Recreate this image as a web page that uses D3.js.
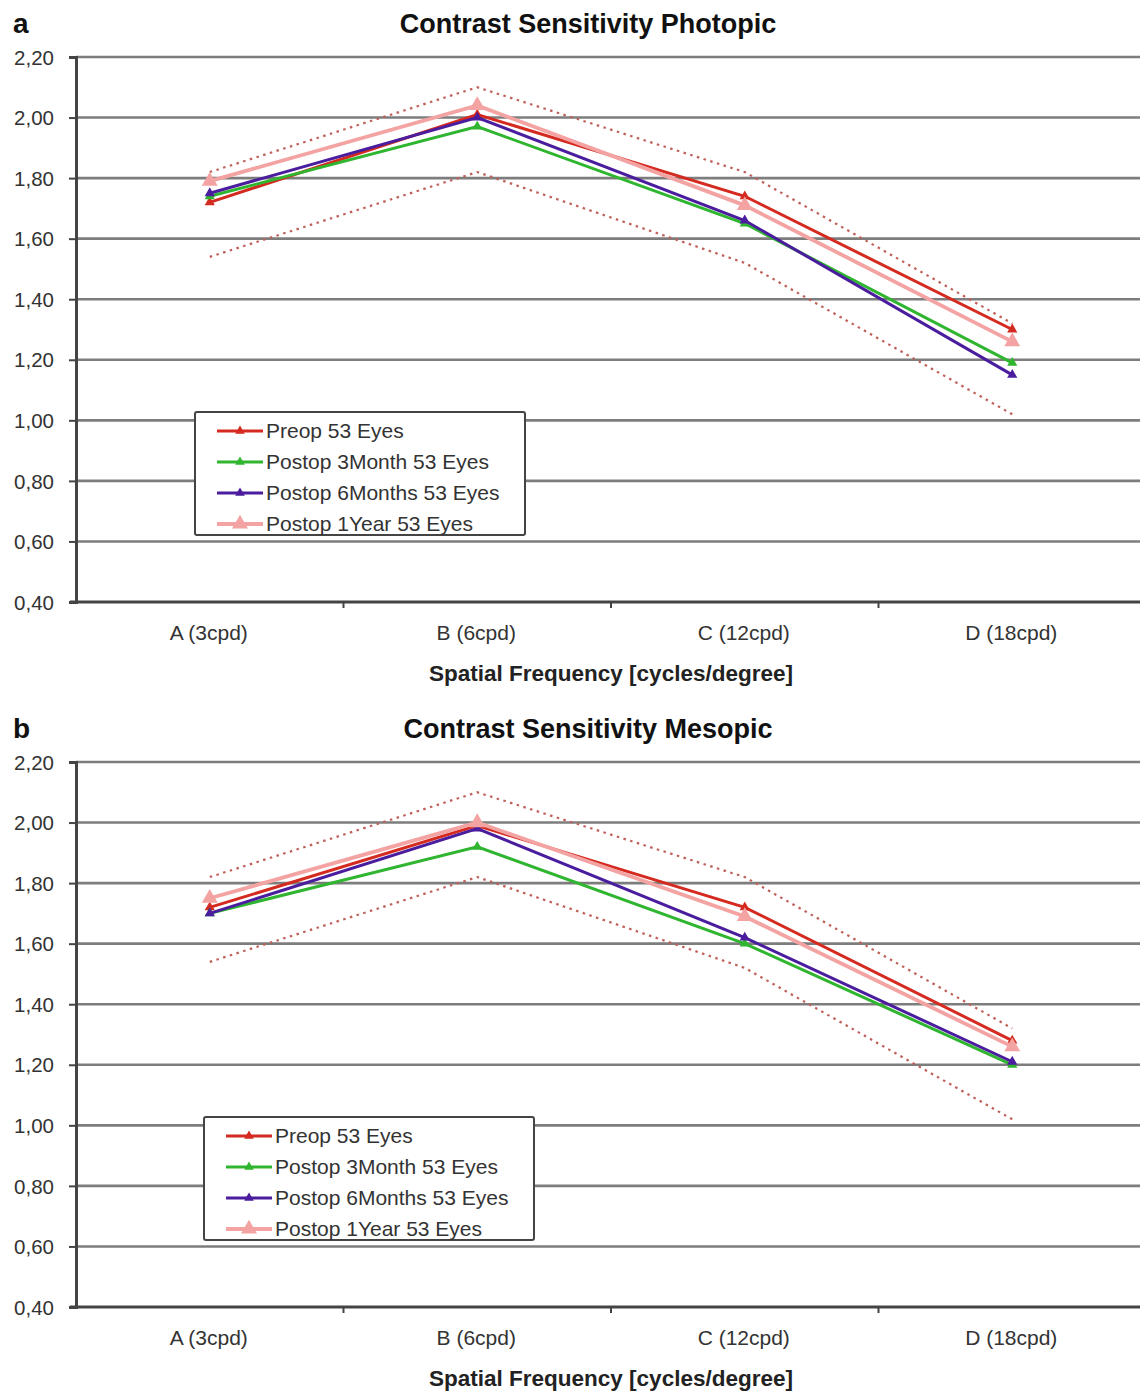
<!DOCTYPE html>
<html>
<head>
<meta charset="utf-8">
<script src="https://cdn.jsdelivr.net/npm/d3@7/dist/d3.min.js"></script>
<style>
  body { margin: 0; background: #fff; }
  svg text { font-family: "Liberation Sans", Arial, sans-serif; }
  .tick-label { fill: #333; }
  .title { font-size: 27px; font-weight: bold; fill: #111; }
  .panel-letter { font-size: 28px; font-weight: bold; fill: #111; }
  .axis-title { font-size: 22.5px; font-weight: bold; fill: #222; }
  .legend-label { font-size: 21px; fill: #333; }
</style>
</head>
<body>
<div id="chart"></div>
<script>
// categories and ticks
var categories = ["A (3cpd)", "B (6cpd)", "C (12cpd)", "D (18cpd)"];
var yTicks = [0.4, 0.6, 0.8, 1.0, 1.2, 1.4, 1.6, 1.8, 2.0, 2.2];
var seriesNames = ["Preop 53 Eyes", "Postop 3Month 53 Eyes", "Postop 6Months 53 Eyes", "Postop 1Year 53 Eyes"];

// photopic (a)
var photopicPreop   = [1.72, 2.01, 1.74, 1.30];
var photopic3Month  = [1.74, 1.97, 1.65, 1.19];
var photopic6Months = [1.75, 2.00, 1.66, 1.15];
var photopic1Year   = [1.79, 2.04, 1.71, 1.26];
var photopicUpper   = [1.82, 2.10, 1.82, 1.32];
var photopicLower   = [1.54, 1.82, 1.52, 1.02];

// mesopic (b)
var mesopicPreop   = [1.72, 1.99, 1.72, 1.28];
var mesopic3Month  = [1.70, 1.92, 1.60, 1.20];
var mesopic6Months = [1.70, 1.98, 1.62, 1.21];
var mesopic1Year   = [1.75, 2.00, 1.69, 1.26];
var mesopicUpper   = [1.82, 2.10, 1.82, 1.32];
var mesopicLower   = [1.54, 1.82, 1.52, 1.02];

var colors = ["#d42a1f", "#2fb52f", "#4a1d9e", "#f4a3a3"];
var normColor = "#c0605a";

var width = 1140, height = 1391;

var svg = d3.select("#chart").append("svg")
    .attr("width", width)
    .attr("height", height);

function drawPanel(top, letter, title, series, upper, lower, legendX) {
    var g = svg.append("g").attr("transform", "translate(0," + top + ")");

    var x = d3.scaleBand().domain(categories).range([76, 1146]);
    var y = d3.scaleLinear().domain([0.4, 2.2]).range([545, 0]);

    // panel letter + title
    g.append("text").attr("class", "panel-letter")
        .attr("x", 13).attr("y", -24).text(letter);
    g.append("text").attr("class", "title")
        .attr("x", 588).attr("y", -24)
        .attr("text-anchor", "middle").text(title);

    // gridlines
    g.selectAll(".grid").data(yTicks.slice(1)).enter().append("line")
        .attr("x1", 76).attr("x2", width)
        .attr("y1", function(d) { return y(d); })
        .attr("y2", function(d) { return y(d); })
        .attr("stroke", "#7d7d7d").attr("stroke-width", 2.6);

    // y axis
    var yAxis = d3.axisLeft(y).tickValues(yTicks).tickSize(7)
        .tickFormat(function(d) { return d3.format(".2f")(d).replace(".", ","); });
    var ya = g.append("g").attr("transform", "translate(76,0)").call(yAxis);
    ya.select(".domain").attr("stroke", "#444").attr("stroke-width", 3);
    ya.selectAll(".tick line").attr("stroke", "#444").attr("stroke-width", 2);
    ya.selectAll(".tick text").attr("class", "tick-label").attr("x", -22)
        .attr("dy", "0.35em").style("font-size", "20.5px").style("font-family", "Liberation Sans, Arial, sans-serif");

    // x axis
    var xa = g.append("g").attr("transform", "translate(0," + y(0.4) + ")");
    xa.append("line").attr("x1", 70).attr("x2", width)
        .attr("stroke", "#444").attr("stroke-width", 3);
    xa.selectAll(".xtick").data(categories.slice(1)).enter().append("line")
        .attr("x1", function(d) { return x(d); })
        .attr("x2", function(d) { return x(d); })
        .attr("y1", 0).attr("y2", 6)
        .attr("stroke", "#444").attr("stroke-width", 2);
    xa.selectAll(".xlabel").data(categories).enter().append("text")
        .attr("class", "tick-label")
        .attr("x", function(d) { return x(d) + x.bandwidth() / 2 - 1; })
        .attr("y", 38)
        .attr("text-anchor", "middle")
        .style("font-size", "21px")
        .text(function(d) { return d; });
    g.append("text").attr("class", "axis-title")
        .attr("x", 611).attr("y", y(0.4) + 79)
        .attr("text-anchor", "middle")
        .text("Spatial Frequency [cycles/degree]");

    var cx = function(d, i) { return x(categories[i]) + x.bandwidth() / 2; };
    var line = d3.line().x(cx).y(function(d) { return y(d); });

    // norm range (dotted)
    [upper, lower].forEach(function(vals) {
        g.append("path").datum(vals)
            .attr("d", line)
            .attr("fill", "none")
            .attr("stroke", normColor)
            .attr("stroke-width", 2.2)
            .attr("stroke-dasharray", "2.5,4.5");
    });

    // series lines
    var tri = d3.symbol().type(d3.symbolTriangle);
    series.forEach(function(vals, s) {
        var isPink = s === 3;
        g.append("path").datum(vals)
            .attr("d", line)
            .attr("fill", "none")
            .attr("stroke", colors[s])
            .attr("stroke-width", isPink ? 3.8 : 3);
        g.selectAll(".m" + s).data(vals).enter().append("path")
            .attr("transform", function(d, i) { return "translate(" + cx(d, i) + "," + y(d) + ")"; })
            .attr("d", tri.size(isPink ? 110 : 45))
            .attr("fill", colors[s]);
    });

    // legend
    var leg = g.append("g").attr("transform", "translate(" + legendX + ",355)");
    leg.append("rect").attr("width", 330).attr("height", 123)
        .attr("fill", "#fff").attr("stroke", "#444").attr("stroke-width", 2).attr("rx", 2);
    seriesNames.forEach(function(name, s) {
        var ly = 19 + s * 31;
        leg.append("line").attr("x1", 22).attr("x2", 68)
            .attr("y1", ly).attr("y2", ly)
            .attr("stroke", colors[s]).attr("stroke-width", s === 3 ? 4 : 3);
        leg.append("path").attr("transform", "translate(45," + ly + ")")
            .attr("d", tri.size(s === 3 ? 110 : 40)).attr("fill", colors[s]);
        leg.append("text").attr("class", "legend-label")
            .attr("x", 71).attr("y", ly).attr("dy", "0.35em").text(name);
    });
}

drawPanel(57, "a", "Contrast Sensitivity Photopic",
    [photopicPreop, photopic3Month, photopic6Months, photopic1Year],
    photopicUpper, photopicLower, 195);

drawPanel(762, "b", "Contrast Sensitivity Mesopic",
    [mesopicPreop, mesopic3Month, mesopic6Months, mesopic1Year],
    mesopicUpper, mesopicLower, 204);
</script>
</body>
</html>
